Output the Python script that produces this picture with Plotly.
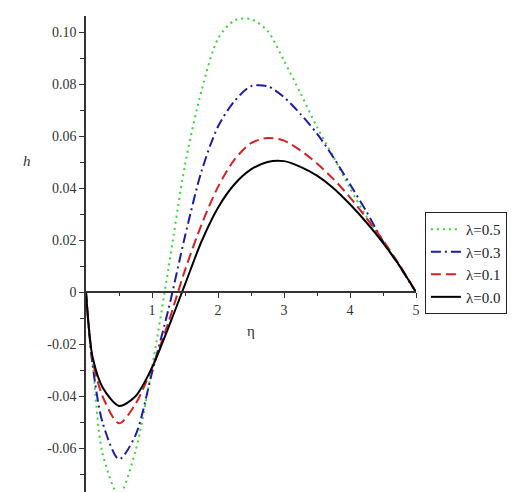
import plotly.graph_objects as go

# eta grid and h(eta) profiles
eta = [0, 0.05, 0.1, 0.25, 0.5, 0.75, 1.0, 1.25, 1.5, 1.75, 2.0, 2.25,
       2.5, 2.75, 3.0, 3.25, 3.5, 3.75, 4.0, 4.25, 4.5, 4.75, 5.0]

h_l05 = [0, -0.016, -0.027, -0.062, -0.078, -0.061, -0.029, 0.0092, 0.049,
         0.0775, 0.0975, 0.1045, 0.105, 0.1005, 0.089, 0.0765, 0.0635, 0.052,
         0.040, 0.029, 0.0195, 0.010, 0]
h_l03 = [0, -0.016, -0.028, -0.050, -0.0642, -0.055, -0.031, -0.0065, 0.0215,
         0.0465, 0.0637, 0.0735, 0.0792, 0.0792, 0.075, 0.0685, 0.061, 0.0518,
         0.0415, 0.031, 0.0195, 0.0100, 0]
h_l01 = [0, -0.015, -0.026, -0.040, -0.0504, -0.043, -0.029, -0.0115, 0.0085,
         0.026, 0.0405, 0.051, 0.0573, 0.0593, 0.0583, 0.0545, 0.0495, 0.0435,
         0.0365, 0.0285, 0.0200, 0.0105, 0]
h_l00 = [0, -0.0155, -0.025, -0.0365, -0.0437, -0.040, -0.029, -0.0135, 0.003,
         0.0195, 0.0325, 0.0415, 0.0472, 0.0501, 0.0504, 0.0482, 0.0448, 0.0400,
         0.0338, 0.0268, 0.0190, 0.0102, 0]

series = [
    ("λ=0.5", h_l05, "#3ad63a", "2px,4px"),
    ("λ=0.3", h_l03, "#1c1ca6", "10px,4px,2px,4px"),
    ("λ=0.1", h_l01, "#d42222", "10px,5px"),
    ("λ=0.0", h_l00, "#000000", "solid"),
]

x_ticks = [1, 2, 3, 4, 5]
x_minor = [0.5, 1.5, 2.5, 3.5, 4.5]
y_ticks = [-0.06, -0.04, -0.02, 0, 0.02, 0.04, 0.06, 0.08, 0.10]
y_text = ["-0.06", "-0.04", "-0.02", "0", "0.02", "0.04", "0.06", "0.08", "0.10"]
y_minor = [-0.07, -0.05, -0.03, -0.01, 0.01, 0.03, 0.05, 0.07, 0.09]

y_lo, y_hi = -0.0795, 0.1062

fig = go.Figure()
for name, ys, color, dash in series:
    fig.add_trace(go.Scatter(
        x=eta, y=ys, mode="lines", name=name,
        line=dict(color=color, width=2, dash=dash, shape="spline", smoothing=0.8),
    ))

serif = "Liberation Serif, Times New Roman, serif"
fig.update_layout(
    width=519, height=492,
    margin=dict(l=78, r=111, t=8, b=1),
    plot_bgcolor="white", paper_bgcolor="white",
    font=dict(family=serif, size=14, color="#333"),
    showlegend=True,
    legend=dict(x=1.027, y=0.594, xanchor="left", yanchor="top",
                bgcolor="white", bordercolor="#222", borderwidth=1,
                font=dict(family=serif, size=15, color="#222"),
                tracegroupgap=0),
)
fig.update_xaxes(
    range=[0, 5], showgrid=False, zeroline=False,
    showline=True, linecolor="#333", linewidth=1.5,
    anchor="free", position=(0 - y_lo) / (y_hi - y_lo),
    tickmode="array", tickvals=x_ticks, ticktext=[str(v) for v in x_ticks],
    ticks="outside", ticklen=5, tickcolor="#333", tickwidth=1.2,
    minor=dict(tickmode="array", tickvals=x_minor, ticks="outside",
               ticklen=3, tickcolor="#333"),
)
fig.update_yaxes(
    range=[y_lo, y_hi], showgrid=False, zeroline=False,
    showline=True, linecolor="#333", linewidth=1.5,
    tickmode="array", tickvals=y_ticks, ticktext=y_text,
    ticks="outside", ticklen=5, tickcolor="#333", tickwidth=1.2,
    minor=dict(tickmode="array", tickvals=y_minor, ticks="outside",
               ticklen=4, tickcolor="#333"),
)

# axis titles as in the original (h upright beside the axis, eta under the x axis)
fig.add_annotation(text="<i>h</i>", xref="paper", yref="y", x=-0.197, y=0.0504,
                   showarrow=False, font=dict(family=serif, size=15, color="#333"))
fig.add_annotation(text="η", xref="x", yref="y", x=2.5, y=-0.015,
                   showarrow=False, font=dict(family=serif, size=15, color="#333"))

fig.write_html("out.html")
